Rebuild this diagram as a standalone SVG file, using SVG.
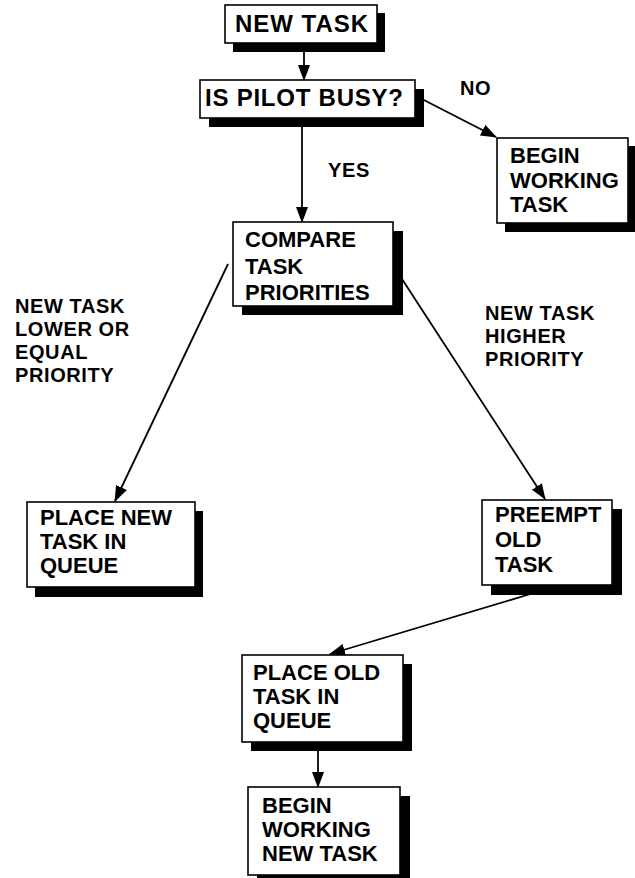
<svg xmlns="http://www.w3.org/2000/svg" width="635" height="878" viewBox="0 0 635 878">
<defs>
<style>
.box{fill:#fff;stroke:#000;stroke-width:1.6}
.sh{fill:#000}
.t{font-family:"Liberation Sans",Arial,sans-serif;font-weight:bold;font-size:22px;fill:#000}
.big{font-size:24px}
.l{font-family:"Liberation Sans",Arial,sans-serif;font-weight:bold;font-size:20px;letter-spacing:0.6px;fill:#000}
.c{stroke:#000;stroke-width:1.8;fill:none;marker-end:url(#ah)}
</style>
<marker id="ah" markerWidth="16" markerHeight="12" refX="15" refY="6" orient="auto" markerUnits="userSpaceOnUse">
<path d="M0,0 L16,6 L0,12 Z" fill="#000"/>
</marker>
</defs>
<rect width="635" height="878" fill="#fff"/>
<g id="connectors">
<line class="c" x1="304" y1="43" x2="304" y2="80"/>
<line class="c" x1="302" y1="118" x2="302" y2="222"/>
<line class="c" x1="418" y1="97" x2="496" y2="137"/>
<line class="c" x1="228" y1="264" x2="115" y2="501"/>
<line class="c" x1="402" y1="279" x2="545" y2="499"/>
<line class="c" x1="537" y1="592" x2="330" y2="654"/>
<line class="c" x1="318" y1="742" x2="318" y2="787"/>
</g>
<g id="labels">
<text class="l" x="460" y="95">NO</text>
<text class="l" x="328" y="177">YES</text>
<text class="l" x="15" y="313">NEW TASK</text>
<text class="l" x="15" y="336">LOWER OR</text>
<text class="l" x="15" y="359">EQUAL</text>
<text class="l" x="15" y="382">PRIORITY</text>
<text class="l" x="485" y="320">NEW TASK</text>
<text class="l" x="485" y="343">HIGHER</text>
<text class="l" x="485" y="366">PRIORITY</text>
</g>
<g id="n1">
<rect class="sh" x="233" y="13" width="152" height="39"/>
<rect class="box" x="225" y="5" width="152" height="38"/>
<text class="t big" x="235" y="32" textLength="133">NEW TASK</text>
</g>
<g id="n2">
<rect class="sh" x="209" y="89" width="215" height="38"/>
<rect class="box" x="200" y="80" width="215" height="38"/>
<text class="t big" x="205" y="106" textLength="198">IS PILOT BUSY?</text>
</g>
<g id="n3">
<rect class="sh" x="505" y="146" width="131" height="86"/>
<rect class="box" x="497" y="138" width="131" height="85"/>
<text class="t" x="510" y="163">BEGIN</text>
<text class="t" x="510" y="188">WORKING</text>
<text class="t" x="510" y="212">TASK</text>
</g>
<g id="n4">
<rect class="sh" x="242" y="231" width="161" height="84"/>
<rect class="box" x="233" y="222" width="160" height="84"/>
<text class="t" x="245" y="247">COMPARE</text>
<text class="t" x="245" y="274">TASK</text>
<text class="t" x="245" y="300">PRIORITIES</text>
</g>
<g id="n5">
<rect class="sh" x="35" y="511" width="168" height="86"/>
<rect class="box" x="27" y="502" width="168" height="85"/>
<text class="t" x="40" y="525">PLACE NEW</text>
<text class="t" x="40" y="549">TASK IN</text>
<text class="t" x="40" y="573">QUEUE</text>
</g>
<g id="n6">
<rect class="sh" x="491" y="509" width="131" height="86"/>
<rect class="box" x="482" y="500" width="130" height="85"/>
<text class="t" x="495" y="522">PREEMPT</text>
<text class="t" x="495" y="547">OLD</text>
<text class="t" x="495" y="572">TASK</text>
</g>
<g id="n7">
<rect class="sh" x="251" y="664" width="161" height="87"/>
<rect class="box" x="242" y="655" width="161" height="87"/>
<text class="t" x="253" y="680">PLACE OLD</text>
<text class="t" x="253" y="704">TASK IN</text>
<text class="t" x="253" y="728">QUEUE</text>
</g>
<g id="n8">
<rect class="sh" x="257" y="796" width="153" height="88"/>
<rect class="box" x="248" y="787" width="152" height="88"/>
<text class="t" x="262" y="813">BEGIN</text>
<text class="t" x="262" y="837">WORKING</text>
<text class="t" x="262" y="861">NEW TASK</text>
</g>
</svg>
